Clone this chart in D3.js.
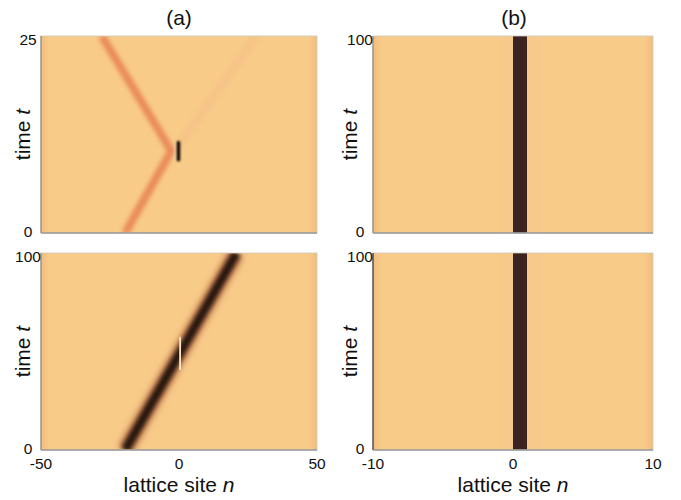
<!DOCTYPE html>
<html>
<head>
<meta charset="utf-8">
<script src="https://cdn.jsdelivr.net/npm/d3@7"></script>
<style>
  body { margin: 0; background: #fff; }
  text { font-family: "Liberation Sans", Arial, sans-serif; fill: #111; }
</style>
</head>
<body>
<div id="chart"></div>
<script>
// ---- data ----
// panel titles
const columnTitles = ['(a)', '(b)'];
// lattice-site ranges and ticks for each column
const siteDomainA = [-50, 50];
const siteDomainB = [-10, 10];
const siteTicksA = [-50, 0, 50];
const siteTicksB = [-10, 0, 10];
// time ranges
const timeTopA = [0, 25];
const timeBottomA = [0, 100];
const timeB = [0, 100];
// (a) top: soliton reflected from the defect, [n, t]
const reflectedPath = [[-19.5, 0], [-2.8, 10.4], [-28, 25]];
const transmittedPath = [[-1.5, 10.4], [28, 25]];
const defectTop = [[-0.2, 9.3], [-0.2, 11.5]];
// (a) bottom: soliton passing through the defect, [n, t]
const passingPath = [[-19.5, 0], [20.8, 100]];
const defectBottom = [[0.4, 41], [0.4, 57]];
// (b): trapped soliton on site 0 (cell n..n+1), both panels
const trappedSites = [0];
const haloSites = [-1, 1];

const W = 681, H = 500;
const svg = d3.select('#chart').append('svg')
  .attr('width', W).attr('height', H);

const defs = svg.append('defs');
function blur(id, s) {
  defs.append('filter').attr('id', id)
    .attr('filterUnits', 'userSpaceOnUse')
    .attr('x', 0).attr('y', 0).attr('width', W).attr('height', H)
    .append('feGaussianBlur').attr('stdDeviation', s);
}
blur('b0', 0.5);
blur('b1', 1.1);
blur('b2', 2.2);
blur('b3', 3.0);

const edge = defs.append('linearGradient').attr('id', 'edge');
[[0, '#f0bd7d'], [0.03, '#f8cb89'], [0.97, '#f8cb89'], [1, '#f0bd7d']].forEach(([o, c]) =>
  edge.append('stop').attr('offset', o).attr('stop-color', c));

const cols = [{ x0: 41, x1: 317, lab: 11 }, { x0: 373, x1: 653, lab: 16 }];
const rows = [{ y0: 36, y1: 233 }, { y0: 253, y1: 450 }];

function panel(ci, ri, siteDomain, timeDomain, tickT, showX, siteTicks) {
  const c = cols[ci], r = rows[ri];
  const x = d3.scaleLinear(siteDomain, [c.x0, c.x1]);
  const y = d3.scaleLinear(timeDomain, [r.y1, r.y0]);
  const id = `clip${ci}${ri}`;
  defs.append('clipPath').attr('id', id).append('rect')
    .attr('x', c.x0).attr('y', r.y0).attr('width', c.x1 - c.x0).attr('height', r.y1 - r.y0);
  const g = svg.append('g');
  const body = g.append('g').attr('clip-path', `url(#${id})`);
  body.append('rect')
    .attr('x', c.x0).attr('y', r.y0).attr('width', c.x1 - c.x0).attr('height', r.y1 - r.y0)
    .attr('fill', 'url(#edge)');

  // frame
  g.append('rect')
    .attr('x', c.x0).attr('y', r.y0).attr('width', c.x1 - c.x0).attr('height', r.y1 - r.y0)
    .attr('fill', 'none').attr('stroke', '#cfc8bd').attr('stroke-width', 0.8);
  g.append('line').attr('x1', c.x0).attr('x2', c.x0).attr('y1', r.y0).attr('y2', r.y1)
    .attr('stroke', ci === 1 && ri === 1 ? '#333' : '#8a8580').attr('stroke-width', 1.2);
  g.append('line').attr('x1', c.x0).attr('x2', c.x1).attr('y1', r.y1).attr('y2', r.y1)
    .attr('stroke', '#999').attr('stroke-width', 1.5);

  // y ticks
  g.selectAll('.yt').data(tickT).join('text')
    .attr('x', c.x0 - 13)
    .attr('y', (d, i) => y(d) + (i === tickT.length - 1 ? 5 : 0))
    .attr('text-anchor', 'middle').attr('dominant-baseline', 'middle')
    .attr('font-size', 15.5).text(d => d);

  // y label
  const yl = g.append('text')
    .attr('transform', `translate(${c.x0 - c.lab},${(r.y0 + r.y1) / 2}) rotate(-90)`)
    .attr('text-anchor', 'middle').attr('font-size', 21);
  yl.append('tspan').text('time ');
  yl.append('tspan').attr('font-style', 'italic').text('t');

  if (showX) {
    g.selectAll('.xt').data(siteTicks).join('text')
      .attr('x', d => x(d)).attr('y', r.y1 + 15)
      .attr('text-anchor', 'middle').attr('dominant-baseline', 'middle')
      .attr('font-size', 15.5).text(d => d);
    const xl = g.append('text')
      .attr('x', (c.x0 + c.x1) / 2).attr('y', r.y1 + 42)
      .attr('text-anchor', 'middle').attr('font-size', 21);
    xl.append('tspan').text('lattice site ');
    xl.append('tspan').attr('font-style', 'italic').text('n');
  }
  return { body, x, y };
}

const line = (x, y) => d3.line().x(d => x(d[0])).y(d => y(d[1]));

// (a) top
{
  const { body, x, y } = panel(0, 0, siteDomainA, timeTopA, timeTopA, false);
  body.append('path').attr('d', line(x, y)(transmittedPath))
    .attr('fill', 'none').attr('stroke', '#f6c487').attr('stroke-width', 9)
    .attr('filter', 'url(#b2)');
  body.append('path').attr('d', line(x, y)(reflectedPath))
    .attr('fill', 'none').attr('stroke', '#ea8b5a').attr('stroke-width', 8)
    .attr('stroke-linejoin', 'round').attr('filter', 'url(#b2)');
  body.append('path').attr('d', line(x, y)(defectTop.map(d => [d[0] - 0.9, d[1]])))
    .attr('fill', 'none').attr('stroke', '#fde9c9').attr('stroke-width', 2)
    .attr('opacity', 0.8).attr('filter', 'url(#b1)');
  body.append('path').attr('d', line(x, y)(defectTop))
    .attr('fill', 'none').attr('stroke', '#0c0603').attr('stroke-width', 3.5)
    .attr('stroke-linecap', 'round').attr('filter', 'url(#b1)');
}

// (a) bottom
{
  const { body, x, y } = panel(0, 1, siteDomainA, timeBottomA, timeBottomA, true, siteTicksA);
  body.append('path').attr('d', line(x, y)(passingPath))
    .attr('fill', 'none').attr('stroke', '#c27b4d').attr('stroke-width', 16)
    .attr('filter', 'url(#b3)');
  body.append('path').attr('d', line(x, y)(passingPath))
    .attr('fill', 'none').attr('stroke', '#26140b').attr('stroke-width', 9)
    .attr('filter', 'url(#b2)');
  body.append('path').attr('d', line(x, y)(defectBottom))
    .attr('fill', 'none').attr('stroke', '#fbe7c6').attr('stroke-width', 1.8)
    .attr('stroke-linecap', 'round').attr('filter', 'url(#b0)');
}

// (b) top and bottom
[0, 1].forEach(ri => {
  const { body, x, y } = panel(1, ri, siteDomainB, timeB, timeB, ri === 1, siteTicksB);
  body.selectAll('.halo').data(haloSites).join('rect')
    .attr('x', d => x(d)).attr('width', d => x(d + 1) - x(d))
    .attr('y', y(timeB[1])).attr('height', y(timeB[0]) - y(timeB[1]))
    .attr('fill', '#f4c68c').attr('opacity', 0.4);
  body.selectAll('.trap').data(trappedSites).join('rect')
    .attr('x', d => x(d)).attr('width', d => x(d + 1) - x(d))
    .attr('y', y(timeB[1])).attr('height', y(timeB[0]) - y(timeB[1]))
    .attr('fill', '#3b2420');
});

// column titles
svg.selectAll('.title').data(columnTitles).join('text')
  .attr('x', (d, i) => (cols[i].x0 + cols[i].x1) / 2 + (i === 1 ? 1 : 0))
  .attr('y', 25)
  .attr('text-anchor', 'middle').attr('font-size', 21)
  .text(d => d);
</script>
</body>
</html>
